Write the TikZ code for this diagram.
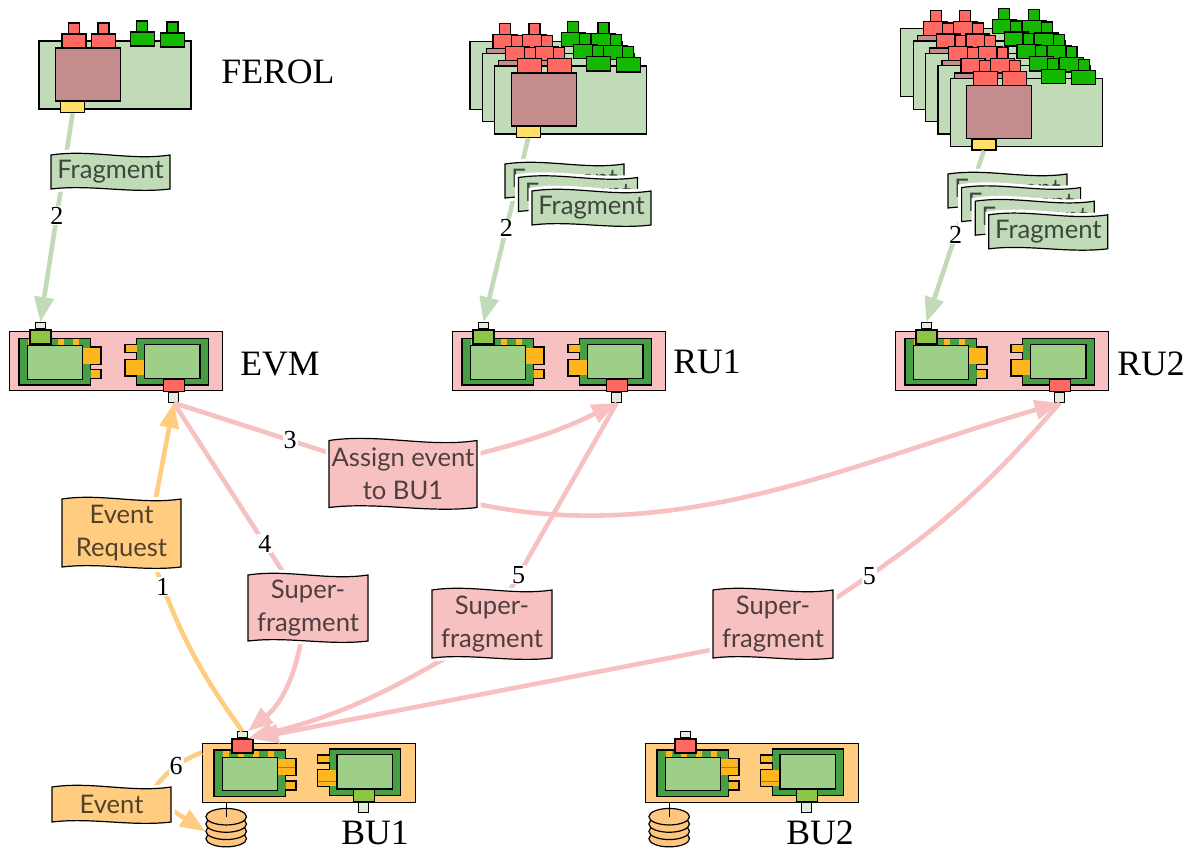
\documentclass[tikz,border=0pt]{standalone}
\usepackage{fontspec}
\setmainfont{Liberation Serif}
\newfontfamily\msgfont{Lato}
\usetikzlibrary{arrows.meta,shapes.geometric}
\definecolor{ferolgreen}{HTML}{C1DBB9}
\definecolor{fpgabrown}{HTML}{C48C8C}
\definecolor{slotyellow}{HTML}{FFDF66}
\definecolor{optred}{HTML}{FF6961}
\definecolor{optgreen}{HTML}{15B800}
\definecolor{rupink}{HTML}{F8C1C1}
\definecolor{buorange}{HTML}{FFCC80}
\definecolor{nicgreen}{HTML}{479E44}
\definecolor{chipgreen}{HTML}{9ECF88}
\definecolor{nicorange}{HTML}{FFB61E}
\definecolor{modgreen}{HTML}{8CC644}
\definecolor{portwhite}{HTML}{DFEEDD}
\definecolor{diskorange}{HTML}{FFC680}
\pgfdeclarelayer{bg}
\pgfdeclarelayer{conn}
\pgfsetlayers{bg,conn,main}
\tikzset{
  part/.style={draw=black,line width=1.2pt},
  modbody/.style={part,inner sep=0pt,minimum width=21pt,anchor=north west},
  modport/.style={part,inner sep=0pt,minimum width=10pt,fill=portwhite},
  ferol/.pic={
    \draw[part,fill=ferolgreen] (0,0) rectangle (152,68);
    \draw[part,fill=fpgabrown] (16.5,7) rectangle (81.5,60);
    \node[part,fill=slotyellow,inner sep=0pt,minimum width=24pt,minimum height=11pt,anchor=north west] (-out) at (21,60) {};
    \foreach \cx in {23,52.5} {
      \draw[part,fill=optred] (\cx,-7) rectangle +(24,14);
      \draw[part,fill=optred] (\cx+6.5,-18) rectangle +(11,11);
    }
    \draw[part,fill=optgreen] (91.5,-9) rectangle +(24,14);
    \draw[part,fill=optgreen] (97.5,-20) rectangle +(11,11);
    \draw[part,fill=optgreen] (121.5,-8) rectangle +(24,14);
    \draw[part,fill=optgreen] (128,-19) rectangle +(11,11);
  },
  nicleft/.pic={
    \draw[part,fill=nicgreen] (0,0) -- (71.5,0) -- (71.5,8.4) -- (82,8.4) -- (82,25.7) -- (71.5,25.7)
      -- (71.5,31) -- (82,31) -- (82,40) -- (71.5,40) -- (71.5,46.5) -- (0,46.5) -- cycle;
    \foreach \sx in {9,24,39,54} \fill[nicorange] (\sx,.7) rectangle +(5.7,6);
    \fill[nicorange] (64,9) rectangle (81.4,25.1);
    \fill[nicorange] (71.5,31.6) rectangle (81.4,39.4);
    \draw[#1,line width=.8pt] (64,17.4) -- (81.4,17.4);
    \draw[part,fill=chipgreen] (8.5,7.2) rectangle (63.7,40.7);
  },
  nicright/.pic={
    \draw[part,fill=nicgreen] (0,0) -- (71.5,0) -- (71.5,46.5) -- (0,46.5) -- (0,37.4) -- (-11.7,37.4)
      -- (-11.7,20.7) -- (0,20.7) -- (0,14) -- (-11.7,14) -- (-11.7,6) -- (0,6) -- cycle;
    \fill[nicorange] (-11.1,6.6) rectangle (0,13.4);
    \fill[nicorange] (-11.1,21.3) rectangle (7.6,36.8);
    \draw[#1,line width=.8pt] (-11.1,32) -- (7.6,32);
    \draw[part,fill=chipgreen] (7.6,5.7) rectangle (63.3,40);
  },
  modtop/.pic={
    \node[modbody,fill=#1,minimum height=14pt] (-body) at (0,0) {};
    \node[modport,anchor=south,minimum height=6pt] (-port) at (-body.north) {};
  },
  modbot/.pic={
    \node[modbody,fill=#1,minimum height=12pt] (-body) at (0,0) {};
    \node[modport,anchor=north,minimum height=9.5pt] (-port) at (-body.south) {};
  }
}
% wavy message box: name, centre, width, height, colour, text
\newcommand{\msgbox}[6]{
  \draw[part,fill=#5,shift={(#2)},preaction={draw=white,line width=7pt}]
    ({-#3/2},{-#4/2}) .. controls ({-#3/6},{-#4/2-.05*#3}) and ({#3/6},{-#4/2+.05*#3}) .. ({#3/2},{-#4/2})
    -- ({#3/2},{#4/2}) .. controls ({#3/6},{#4/2+.04*#3}) and ({-#3/6},{#4/2-.04*#3}) .. ({-#3/2},{#4/2}) -- cycle;
  \node[msgtext,minimum width=#3,minimum height=#4] (#1) at (#2) {#6};
}

\begin{document}
\begin{tikzpicture}[x=1pt,y=-1pt,
    msgtext/.style={inner sep=0pt,align=center,text=black,text opacity=.68,font=\msgfont\fontsize{25.6}{32.5}\selectfont},
    serverbox/.style={part,inner sep=0pt,minimum width=212.5pt,minimum height=59pt,anchor=north west},
    diskpart/.style={part,ellipse,inner sep=0pt,minimum width=40.6pt,minimum height=16.5pt,fill=diskorange},
    title/.style={font=\fontsize{35.7}{40}\selectfont,inner sep=0pt},
    descr/.style={fill=white,text=black,inner sep=1pt,font=\fontsize{26}{28}\selectfont},
    tip/.style={-{Triangle[length=25pt,width=19pt]}},
    greenlink/.style={line width=4.6pt,color=ferolgreen},
    pinklink/.style={line width=4.6pt,color=rupink},
    orangelink/.style={line width=4.6pt,color=buorange}]
  \useasboundingbox (0,0) rectangle (1193,851);

  \begin{pgfonlayer}{bg}
    \pic (ferolA) at (39,41) {ferol};
    \foreach \k in {0,1,2}
      \pic (ferolB\k) at ({470+12.3*\k},{41.3+12.3*\k}) {ferol};
    \foreach \k in {0,1,2,3,4}
      \pic (ferolC\k) at ({900.7+12.4*\k},{28.7+12.4*\k}) {ferol};

    \foreach \nam/\px in {EVM/9,RU1/452,RU2/895} {
      \node[serverbox,fill=rupink] (\nam) at (\px,331) {};
      \pic at (\px+10,338.5) {nicleft=nicorange};
      \pic at (\px+127.7,338.5) {nicright=nicorange};
      \pic (\nam-in) at (\px+20.3,329.3) {modtop=modgreen};
      \pic (\nam-out) at (\px+153.7,379) {modbot=optred};
    }
    \foreach \nam/\px in {BU1/202,BU2/645} {
      \node[serverbox,fill=buorange] (\nam) at (\px,743) {};
      \pic at (\px+12,750) {nicleft=nicgreen};
      \pic at (\px+127.3,749) {nicright=nicgreen};
      \foreach \d in {3,2,1,0}
        \node[diskpart] (\nam-disk\d) at (\px+24.2,816.7+7.3*\d) {};
      \draw[line width=.8pt] (\nam.south west -| \nam-disk0) -- (\nam-disk0.center);
      \pic (\nam-in) at (\px+29.3,738.4) {modtop=optred};
      \pic (\nam-out) at (\px+150.7,789) {modbot=modgreen};
    }
  \end{pgfonlayer}

  \node[title] (ferolname) at (278,72) {FEROL};
  \node[title] (evmname) at (280,364) {EVM};
  \node[title] (ru1name) at (707,362) {RU1};
  \node[title] (ru2name) at (1151,364) {RU2};
  \node[title] (bu1name) at (375,833) {BU1};
  \node[title] (bu2name) at (820,833) {BU2};

  \msgbox{fragA}{110.5,172}{119}{34}{ferolgreen}{Fragment}
  \foreach \k in {0,1,2} {
    \msgbox{fragB\k}{{564.5+13.5*\k},{181+13.5*\k}}{119}{34}{ferolgreen}{Fragment}
  }
  \foreach \k in {0,1,2,3} {
    \msgbox{fragC\k}{{1007.5+13.6*\k},{191+13.6*\k}}{119}{34}{ferolgreen}{Fragment}
  }
  \msgbox{request}{121.5,533}{119}{68}{buorange}{Event\\Request}
  \msgbox{assign}{403,474}{148}{67}{rupink}{Assign event\\to BU1}
  \msgbox{superA}{308,608}{120}{66}{rupink}{Super-\\fragment}
  \msgbox{superB}{492,624}{120}{68}{rupink}{Super-\\fragment}
  \msgbox{superC}{773,624}{120}{68}{rupink}{Super-\\fragment}
  \msgbox{event}{111.5,804.5}{119}{35}{buorange}{Event}

  \begin{pgfonlayer}{conn}
    \path[greenlink]
      (ferolA-out.south) edge[tip] node[pos=.49,descr]{2} (EVM-in-port.north)
      (ferolB2-out.south) edge[tip] node[pos=.49,descr]{2} (RU1-in-port.north)
      (ferolC4-out.south) edge[tip] node[pos=.49,descr]{2} (RU2-in-port.north);

    \path[pinklink]
      (EVM-out-port.south) edge node[pos=.75,descr]{3} (assign.164)
      (assign.15) edge[tip,bend right=6] (RU1-out-port.south)
      (assign.-22) edge[tip,out=-12,in=196,looseness=.9] (RU2-out-port.south)
      (EVM-out-port.south) edge node[pos=.82,descr]{4} (superA.125)
      (superA.-102) edge[tip,bend left=20] (BU1-in-port.north east)
      (RU1-out-port.south) edge node[pos=.92,descr]{5} (superB.62)
      (superB.-144) edge[tip,bend left=8] (BU1-in-port.south east)
      (RU2-out-port.south) edge[bend left=8] node[pos=.87,descr]{5} (superC.22)
      (superC.-157) edge[tip] (BU1-in-body.north east);

    \path[orangelink]
      (BU1-in-port.north) edge[bend left=8] node[pos=.9,descr]{1} (request.-45)
      (request.45) edge[tip] (EVM-out-port.south)
      (BU1.169) edge[bend right=15] node[pos=.5,descr]{6} (event.22)
      (event.-5) edge[tip] (BU1-disk2.west);
  \end{pgfonlayer}
\end{tikzpicture}
\end{document}
